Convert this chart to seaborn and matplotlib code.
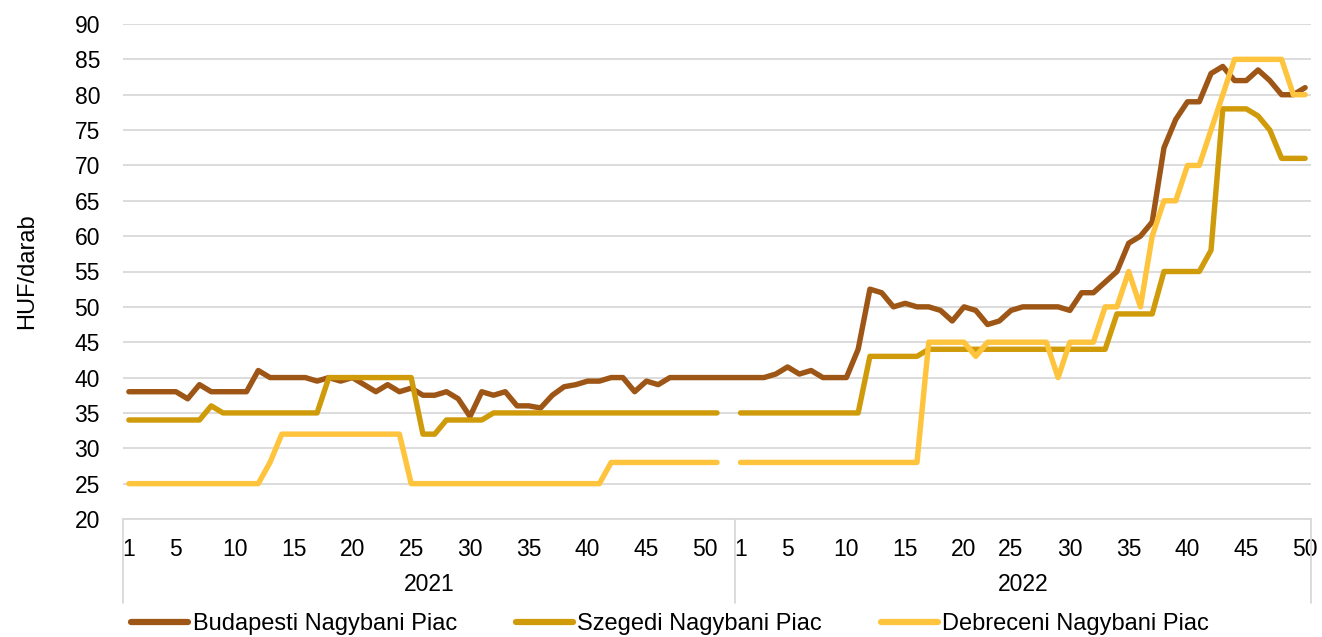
import numpy as np
import pandas as pd
import seaborn as sns
import matplotlib.pyplot as plt
import matplotlib.transforms as mtransforms
from matplotlib.lines import Line2D

# --- adatok ---
years = ["2021", "2022"]
weeks_2021 = list(range(1, 53))
weeks_2022 = list(range(1, 22)) + list(range(23, 51))   # 2022: egy het hianyzik

series_names = ["Budapesti Nagybani Piac", "Szegedi Nagybani Piac", "Debreceni Nagybani Piac"]
colors = ["#9E5616", "#D09B0B", "#FFC43D"]

budapest_2021 = [38, 38, 38, 38, 38, 37, 39, 38, 38, 38,
                 38, 41, 40, 40, 40, 40, 39.5, 40, 39.5, 40,
                 39, 38, 39, 38, 38.5, 37.5, 37.5, 38, 37, 34.5,
                 38, 37.5, 38, 36, 36, 35.7, 37.5, 38.7, 39, 39.5,
                 39.5, 40, 40, 38, 39.5, 39, 40, 40, 40, 40,
                 40, 40]
szeged_2021 = [34, 34, 34, 34, 34, 34, 34, 36, 35, 35,
               35, 35, 35, 35, 35, 35, 35, 40, 40, 40,
               40, 40, 40, 40, 40, 32, 32, 34, 34, 34,
               34, 35, 35, 35, 35, 35, 35, 35, 35, 35,
               35, 35, 35, 35, 35, 35, 35, 35, 35, 35,
               35, np.nan]
debrecen_2021 = [25, 25, 25, 25, 25, 25, 25, 25, 25, 25,
                 25, 25, 28, 32, 32, 32, 32, 32, 32, 32,
                 32, 32, 32, 32, 25, 25, 25, 25, 25, 25,
                 25, 25, 25, 25, 25, 25, 25, 25, 25, 25,
                 25, 28, 28, 28, 28, 28, 28, 28, 28, 28,
                 28, np.nan]

budapest_2022 = [40, 40, 40, 40.5, 41.5, 40.5, 41, 40, 40, 40,
                 44, 52.5, 52, 50, 50.5, 50, 50, 49.5, 48, 50,
                 49.5, 47.5, 48, 49.5, 50, 50, 50, 50, 49.5, 52,
                 52, 53.5, 55, 59, 60, 62, 72.5, 76.5, 79, 79,
                 83, 84, 82, 82, 83.5, 82, 80, 80, 81]
szeged_2022 = [35, 35, 35, 35, 35, 35, 35, 35, 35, 35,
               35, 43, 43, 43, 43, 43, 44, 44, 44, 44,
               44, 44, 44, 44, 44, 44, 44, 44, 44, 44,
               44, 44, 49, 49, 49, 49, 55, 55, 55, 55,
               58, 78, 78, 78, 77, 75, 71, 71, 71]
debrecen_2022 = [28, 28, 28, 28, 28, 28, 28, 28, 28, 28,
                 28, 28, 28, 28, 28, 28, 45, 45, 45, 45,
                 43, 45, 45, 45, 45, 45, 45, 40, 45, 45,
                 45, 50, 50, 55, 50, 60, 65, 65, 70, 70,
                 75, 80, 85, 85, 85, 85, 85, 80, 80]

label_weeks = [1, 5, 10, 15, 20, 25, 30, 35, 40, 45, 50]

# --- tabla ---
week_labels = weeks_2021 + weeks_2022
pos = list(range(len(week_labels)))
values = {
    series_names[0]: budapest_2021 + budapest_2022,
    series_names[1]: szeged_2021 + szeged_2022,
    series_names[2]: debrecen_2021 + debrecen_2022,
}
frames = []
for name in series_names:
    d = pd.DataFrame({"pos": pos, "value": values[name], "series": name})
    d["seg"] = d["value"].isna().cumsum()     # hianyzo ertek -> uj szakasz
    frames.append(d.dropna())
df = pd.concat(frames, ignore_index=True)

# --- abra ---
sns.set_theme(style="whitegrid")
plt.rcParams["font.family"] = ["Liberation Sans", "DejaVu Sans"]
plt.rcParams["text.color"] = "black"
FS = 16.5

fig = plt.figure(figsize=(13.22, 6.37), dpi=100)
ax = fig.add_axes([123 / 1322, 118 / 637, 1188 / 1322, 495 / 637])

sns.lineplot(data=df, x="pos", y="value", hue="series", units="seg",
             estimator=None, sort=False, palette=dict(zip(series_names, colors)),
             linewidth=3.9, legend=False, ax=ax)
for ln in ax.lines:
    ln.set_solid_capstyle("round")
    ln.set_solid_joinstyle("round")

ax.set_xlim(-0.5, len(pos) - 0.5)
ax.set_ylim(20, 90)
ax.set_yticks(range(20, 95, 5))
ax.set_facecolor("white")
ax.yaxis.grid(True, color="#d9d9d9", linewidth=1.3)
ax.xaxis.grid(False)
for s in ["left", "top", "right"]:
    ax.spines[s].set_visible(False)
ax.spines["bottom"].set_color("#d9d9d9")
ax.spines["bottom"].set_linewidth(1.3)

tick_pos = [p for p, w in zip(pos, week_labels) if w in label_weeks]
tick_lab = [str(week_labels[p]) for p in tick_pos]
ax.set_xticks(tick_pos)
ax.set_xticklabels(tick_lab)
ax.tick_params(axis="x", length=0, pad=14, labelsize=FS, colors="black")
ax.tick_params(axis="y", length=0, pad=16.5, labelsize=FS, colors="black")
ax.set_xlabel("")
ax.set_ylabel("HUF/darab", fontsize=FS + 0.5, color="black", labelpad=26)

# ev-szintu kategoriak
trans = mtransforms.blended_transform_factory(ax.transData, ax.transAxes)
n21 = len(weeks_2021)
bounds = [-0.5, n21 - 0.5, len(pos) - 0.5]
for b in bounds:
    ax.add_line(Line2D([b, b], [0, -0.17], transform=trans, color="#d9d9d9",
                       linewidth=1.3, clip_on=False))
ax.text((bounds[0] + bounds[1]) / 2, -0.132, years[0], transform=trans,
        ha="center", va="center", fontsize=FS, color="black")
ax.text((bounds[1] + bounds[2]) / 2, -0.132, years[1], transform=trans,
        ha="center", va="center", fontsize=FS, color="black")

handles = [Line2D([], [], color=c, linewidth=4.5, solid_capstyle="round") for c in colors]
fig.legend(handles, series_names, loc="center", bbox_to_anchor=(0.507, 1 - 624 / 637),
           ncol=3, frameon=False, fontsize=17, handlelength=2.4, handletextpad=0.2,
           columnspacing=2.5, labelcolor="black")

plt.savefig("out.png", dpi=100)
